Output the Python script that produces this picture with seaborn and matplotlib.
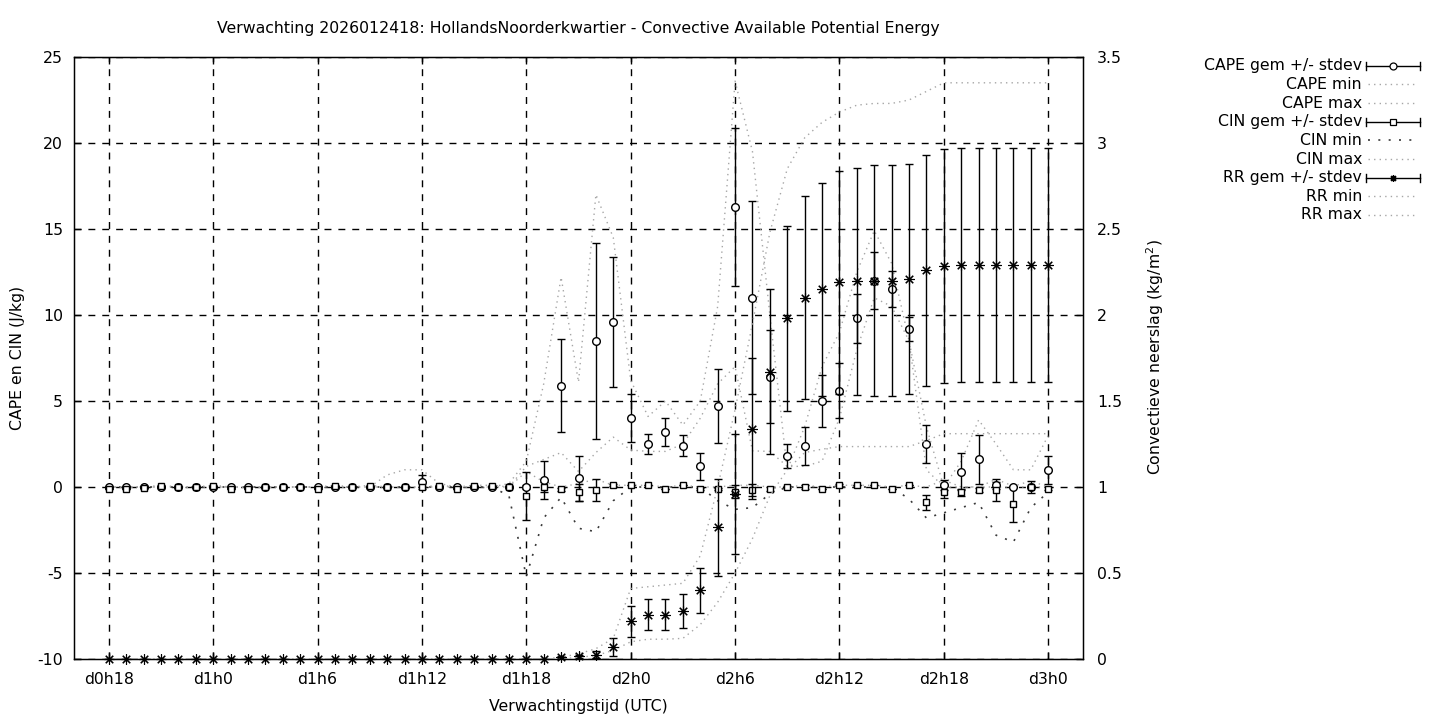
import matplotlib
matplotlib.use("Agg")
import matplotlib.pyplot as plt
from matplotlib.lines import Line2D
from matplotlib.ticker import FuncFormatter
import seaborn as sns

plt.rcParams['font.family'] = ['DejaVu Sans']
plt.rcParams['axes.unicode_minus'] = False
FS = 11.3

# ---- data (one value per forecast hour, d0h18 .. d3h0) ----
hours = list(range(18, 73))
tick_hours = [18, 24, 30, 36, 42, 48, 54, 60, 66, 72]
tick_labels = ["d0h18", "d1h0", "d1h6", "d1h12", "d1h18",
               "d2h0", "d2h6", "d2h12", "d2h18", "d3h0"]

cape_mean = [0, 0, 0, 0, 0, 0, 0, 0, 0, 0,
             0, 0, 0, 0, 0, 0, 0, 0, 0.3, 0,
             0, 0, 0, 0, 0.0, 0.4, 5.9, 0.5, 8.5, 9.6,
             4.0, 2.5, 3.2, 2.4, 1.2, 4.7, 16.3, 11.0, 6.4, 1.8,
             2.4, 5.0, 5.6, 9.8, 12.0, 11.5, 9.2, 2.5, 0.1, 0.9,
             1.6, 0.1, 0.0, 0.0, 1.0]
cape_sd = [0, 0, 0, 0, 0, 0, 0, 0, 0, 0,
           0, 0, 0, 0, 0, 0, 0, 0, 0.4, 0,
           0, 0, 0, 0, 0.1, 1.1, 2.7, 1.3, 5.7, 3.8,
           1.4, 0.6, 0.8, 0.6, 0.8, 2.15, 4.6, 5.6, 2.7, 0.7,
           1.1, 1.5, 1.6, 1.4, 1.65, 1.05, 0.7, 1.1, 0.3, 1.1,
           1.45, 0.2, 0, 0, 0.8]
cape_min = [0, 0, 0, 0, 0, 0, 0, 0, 0, 0,
            0, 0, 0, 0, 0, 0, 0, 0, 0, 0,
            0, 0, 0, 0, 1.2, 1.6, 2.0, 0.9, 2.0, 2.9,
            2.15, 2.07, 2.07, 2.5, 4.0, 6.0, 7.0, 2.1, 2.07, 1.2,
            1.2, 1.5, 4.0, 8.0, 11.0, 10.5, 8.5, 1.0, 0, 0,
            0, 0, 0, 0, 0]
cape_max = [0, 0, 0, 0, 0, 0, 0, 0, 0, 0,
            0, 0, 0, 0, 0, 0, 0.7, 1.0, 1.0, 0.2,
            0, 0, 0, 0.2, 1.5, 6.0, 12.2, 6.1, 17.0, 14.5,
            6.2, 4.1, 5.0, 3.6, 5.0, 10.5, 23.6, 19.5, 10.0, 1.0,
            3.5, 7.0, 9.0, 12.5, 14.9, 13.0, 8.5, 3.5, 0.0, 1.5,
            3.9, 2.5, 1.0, 1.0, 3.0]

cin_mean = [-0.13, -0.1, -0.04, 0.08, 0, 0, 0.08, -0.13, -0.13, 0,
            0, 0, -0.13, 0.08, 0, 0.08, 0, 0, 0, 0.08,
            -0.13, 0.08, 0.08, -0.02, -0.5, 0.0, -0.13, -0.3, -0.17, 0.1,
            0.1, 0.1, -0.1, 0.1, -0.1, -0.1, -0.27, -0.17, -0.12, 0.0,
            0.0, -0.12, 0.1, 0.1, 0.1, -0.13, 0.1, -0.9, -0.3, -0.3,
            -0.17, -0.17, -1.0, 0.0, -0.1]
cin_sd = [0, 0, 0, 0, 0, 0, 0, 0, 0, 0,
          0, 0, 0, 0, 0, 0, 0, 0, 0, 0,
          0, 0, 0, 0, 1.4, 0.3, 0.1, 0.5, 0.65, 0.05,
          0, 0, 0, 0, 0.05, 0.05, 0.38, 0.35, 0.1, 0.05,
          0.1, 0, 0.05, 0, 0, 0, 0, 0.45, 0.35, 0.2,
          0.1, 0.63, 1.05, 0.35, 0.1]
cin_min = [0, 0, 0, 0, 0, 0, 0, 0, 0, 0,
           0, 0, 0, 0, 0, 0, 0, 0, 0, 0,
           0, 0, 0, -0.5, -5.2, -1.8, -0.6, -2.4, -2.6, -0.8,
           0, 0, 0, 0, 0, -0.8, -1.3, -1.2, -0.4, 0,
           0, 0, 0, 0, 0, 0, -0.7, -1.8, -1.5, -1.2,
           -0.9, -2.8, -3.2, -1.2, -0.3]
cin_max = [0, 0, 0, 0.1, 0, 0, 0.1, 0, 0, 0,
           0, 0, 0, 0.1, 0, 0.1, 0, 0, 0, 0.1,
           0, 0.1, 0.1, 0, 0.9, 0.3, 0, 0.2, 0.45, 0.1,
           0.1, 0.1, 0, 0.1, 0, 0, 0.1, 0.1, 0, 0,
           0.1, 0, 0.1, 0.1, 0.1, 0, 0.1, 0, 0.4, 0,
           0, 0.45, 0.05, 0.35, 0]

rr_mean = [0, 0, 0, 0, 0, 0, 0, 0, 0, 0,
           0, 0, 0, 0, 0, 0, 0, 0, 0, 0,
           0, 0, 0, 0, 0, 0, 0.01, 0.015, 0.025, 0.07,
           0.22, 0.256, 0.256, 0.28, 0.40, 0.765, 0.96, 1.34, 1.67, 1.98,
           2.10, 2.15, 2.19, 2.195, 2.20, 2.20, 2.21, 2.26, 2.285, 2.29,
           2.29, 2.29, 2.29, 2.29, 2.29]
rr_sd = [0, 0, 0, 0, 0, 0, 0, 0, 0, 0,
         0, 0, 0, 0, 0, 0, 0, 0, 0, 0,
         0, 0, 0, 0, 0, 0, 0.005, 0.01, 0.02, 0.05,
         0.09, 0.09, 0.09, 0.1, 0.13, 0.28, 0.35, 0.41, 0.48, 0.54,
         0.59, 0.62, 0.65, 0.66, 0.67, 0.67, 0.67, 0.67, 0.68, 0.68,
         0.68, 0.68, 0.68, 0.68, 0.68]
rr_min = [0, 0, 0, 0, 0, 0, 0, 0, 0, 0,
          0, 0, 0, 0, 0, 0, 0, 0, 0, 0,
          0, 0, 0, 0, 0, 0, 0, 0.01, 0.02, 0.05,
          0.1, 0.115, 0.115, 0.12, 0.2, 0.33, 0.5, 0.7, 0.95, 1.1,
          1.2, 1.22, 1.235, 1.235, 1.235, 1.235, 1.235, 1.27, 1.31, 1.31,
          1.31, 1.31, 1.31, 1.31, 1.31]
rr_max = [0, 0, 0, 0, 0, 0, 0, 0, 0, 0,
          0, 0, 0, 0, 0, 0, 0, 0, 0, 0,
          0, 0, 0, 0, 0, 0, 0.01, 0.03, 0.06, 0.12,
          0.41, 0.42, 0.43, 0.44, 0.6, 1.0, 1.45, 1.95, 2.48, 2.85,
          3.03, 3.12, 3.18, 3.22, 3.23, 3.23, 3.25, 3.3, 3.35, 3.35,
          3.35, 3.35, 3.35, 3.35, 3.35]

GRAY = '#a6a6a6'
DOT = (0, (1, 3))
CIN_DOT = (0, (1.2, 5))
CIN_COL = '#3a3a3a'
STAR = (8, 2, 0)

W, H = 1440, 720
fig = plt.figure(figsize=(W / 100, H / 100), dpi=100)
ax = fig.add_axes([74 / W, 1 - 659 / H, (1083 - 74) / W, (659 - 57) / H])

ax.set_xlim(16, 74)
ax.set_ylim(-10, 25)
ax.set_xticks(tick_hours)
ax.set_xticklabels(tick_labels)
ax.set_yticks(range(-10, 26, 5))
ax.grid(True, color='black', linestyle=(0, (5, 5)), linewidth=1)
ax.tick_params(direction='in', length=5, width=1, labelsize=FS,
               top=True, bottom=True, left=True, right=False)
ax.tick_params(axis='y', pad=8)
ax.tick_params(axis='x', pad=9)
for s in ax.spines.values():
    s.set_color('black')
    s.set_linewidth(1)

eb = dict(ecolor='black', elinewidth=1, capsize=3, capthick=1)

# CAPE
ax.errorbar(hours, cape_mean, yerr=cape_sd, fmt='o', ms=5.5, mfc='white',
            mec='black', mew=1, zorder=3, **eb)
sns.lineplot(x=hours, y=cape_min, ax=ax, color=GRAY, linestyle=DOT, linewidth=1, legend=False)
sns.lineplot(x=hours, y=cape_max, ax=ax, color=GRAY, linestyle=DOT, linewidth=1, legend=False)

# CIN
ax.errorbar(hours, cin_mean, yerr=cin_sd, fmt='s', ms=5, mfc='white',
            mec='black', mew=1, zorder=3, **eb)
sns.lineplot(x=hours, y=cin_min, ax=ax, color=CIN_COL, linestyle=CIN_DOT, linewidth=1.2, legend=False)
sns.lineplot(x=hours, y=cin_max, ax=ax, color=GRAY, linestyle=DOT, linewidth=1, legend=False)

# RR on the right axis
ax2 = ax.twinx()
ax2.set_ylim(0, 3.5)
ax2.set_yticks([0, 0.5, 1, 1.5, 2, 2.5, 3, 3.5])
ax2.yaxis.set_major_formatter(FuncFormatter(lambda v, p: f"{v:g}"))
ax2.tick_params(direction='in', length=5, width=1, labelsize=FS, pad=10,
                right=True, left=False)
ax2.errorbar(hours, rr_mean, yerr=rr_sd, fmt='none', **eb)
ax2.plot(hours, rr_mean, linestyle='none', marker=STAR, ms=7.5,
         color='black', mew=0.8, clip_on=False, zorder=4)
sns.lineplot(x=hours, y=rr_min, ax=ax2, color=GRAY, linestyle=DOT, linewidth=1, legend=False)
sns.lineplot(x=hours, y=rr_max, ax=ax2, color=GRAY, linestyle=DOT, linewidth=1, legend=False)
ax2.set_xlim(16, 74)
ax2.set_ylabel('')
ax.set_ylabel('')
ax.set_xlabel('')

# texts
fig.text(578 / W, 1 - 29 / H,
         "Verwachting 2026012418: HollandsNoorderkwartier - Convective Available Potential Energy",
         ha='center', va='center', fontsize=FS)
fig.text(18 / W, 1 - 358 / H, "CAPE en CIN (J/kg)", rotation=90,
         ha='center', va='center', fontsize=FS)
fig.text(1155 / W, 1 - 357 / H, "Convectieve neerslag (kg/m$^2$)", rotation=90,
         ha='center', va='center', fontsize=FS)
fig.text(578 / W, 1 - 706 / H, "Verwachtingstijd (UTC)",
         ha='center', va='center', fontsize=FS)

# legend (gnuplot style: label right-aligned, sample to the right)
entries = [("CAPE gem +/- stdev", 'err', 'o'), ("CAPE min", 'dot', None),
           ("CAPE max", 'dot', None), ("CIN gem +/- stdev", 'err', 's'),
           ("CIN min", 'cin', None), ("CIN max", 'dot', None),
           ("RR gem +/- stdev", 'err', STAR), ("RR min", 'dot', None),
           ("RR max", 'dot', None)]
x0, x1 = 1366, 1420
for i, (label, kind, mk) in enumerate(entries):
    py = 65.7 + 18.66 * i
    fy = 1 - py / H
    fig.text(1362 / W, fy, label, ha='right', va='center', fontsize=FS)
    if kind == 'err':
        fig.add_artist(Line2D([x0 / W, x1 / W], [fy, fy], color='black', lw=1))
        for xc in (x0, x1):
            fig.add_artist(Line2D([xc / W, xc / W], [fy - 4 / H, fy + 4 / H],
                                  color='black', lw=1))
        fig.add_artist(Line2D([(x0 + x1) / 2 / W], [fy], marker=mk, ms=5,
                              mfc='white', mec='black', color='black', mew=0.9,
                              linestyle='none'))
    elif kind == 'cin':
        fig.add_artist(Line2D([(x0 + 2) / W, (x1 - 2) / W], [fy, fy], color=CIN_COL,
                              lw=1.2, linestyle=CIN_DOT))
    else:
        fig.add_artist(Line2D([(x0 + 2) / W, (x1 - 2) / W], [fy, fy], color=GRAY,
                              lw=1, linestyle=DOT))

fig.savefig("out.png", dpi=100)
